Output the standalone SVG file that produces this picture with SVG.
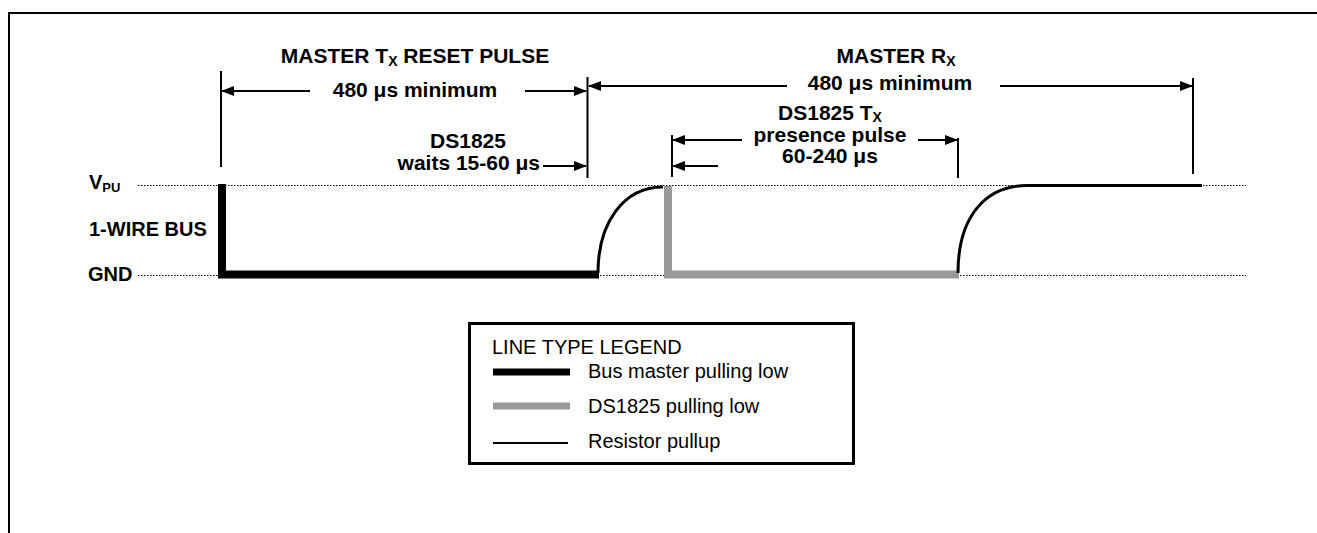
<svg xmlns="http://www.w3.org/2000/svg" width="1317" height="533" viewBox="0 0 1317 533">
<style>
.t{font-family:"Liberation Sans",Arial,sans-serif;font-weight:bold;font-size:20px;fill:#000}
.L{font-size:21px}
.r{font-family:"Liberation Sans",Arial,sans-serif;font-size:20px;fill:#000}
.dim{stroke:#000;stroke-width:2;fill:none}
.dot{stroke:#000;stroke-width:1;stroke-dasharray:1.5 1.5;fill:none}
.sub{font-size:14px}
</style>
<defs>
<marker id="ah" markerUnits="userSpaceOnUse" markerWidth="13" markerHeight="10" refX="12" refY="5" orient="auto">
<path d="M0,0 L13,5 L0,10 z" fill="#000"/>
</marker>
</defs>
<rect width="1317" height="533" fill="#fff"/>
<path id="frame" d="M9,533 V13 H1317" fill="none" stroke="#000" stroke-width="2"/>

<g id="levels">
<line class="dot" x1="138" y1="185.5" x2="1246" y2="185.5"/>
<line class="dot" x1="138" y1="275.5" x2="1246" y2="275.5"/>
<text class="t" x="89" y="189">V<tspan class="sub" dy="3" style="font-size:13px">PU</tspan></text>
<text class="t" x="89" y="236">1-WIRE BUS</text>
<text class="t" x="88" y="281">GND</text>
</g>

<g id="waveform">
<path d="M222,184 V274.5 H599" fill="none" stroke="#000" stroke-width="8" stroke-linejoin="miter"/>
<path d="M598,273 C598,222 624,187 663,187" fill="none" stroke="#000" stroke-width="3"/>
<path d="M668,186 V274.5 H959" fill="none" stroke="#999" stroke-width="8" stroke-linejoin="miter"/>
<path d="M958,273 C958,216 986,185.5 1027,185.5 H1202" fill="none" stroke="#000" stroke-width="3"/>
</g>

<g id="connectors">
<line class="dim" x1="221" y1="71" x2="221" y2="167"/>
<line class="dim" x1="587.5" y1="77" x2="587.5" y2="178"/>
<line class="dim" x1="1193" y1="78" x2="1193" y2="174"/>
<line class="dim" x1="672" y1="135" x2="672" y2="177"/>
<line class="dim" x1="958" y1="138" x2="958" y2="178"/>
<line class="dim" x1="310" y1="91" x2="222" y2="91" marker-end="url(#ah)"/>
<line class="dim" x1="525" y1="91" x2="586" y2="91" marker-end="url(#ah)"/>
<line class="dim" x1="787" y1="86" x2="589" y2="86" marker-end="url(#ah)"/>
<line class="dim" x1="1000" y1="86" x2="1192" y2="86" marker-end="url(#ah)"/>
<line class="dim" x1="543" y1="166" x2="586" y2="166" marker-end="url(#ah)"/>
<line class="dim" x1="742" y1="140" x2="673" y2="140" marker-end="url(#ah)"/>
<line class="dim" x1="918" y1="140" x2="957" y2="140" marker-end="url(#ah)"/>
<line class="dim" x1="718" y1="166" x2="673" y2="166" marker-end="url(#ah)"/>
</g>

<g id="labels">
<text class="t L" x="415" y="63" text-anchor="middle">MASTER T<tspan class="sub" dy="3">X</tspan><tspan dy="-3"> RESET PULSE</tspan></text>
<text class="t L" x="415" y="97" text-anchor="middle">480 μs minimum</text>
<text class="t L" x="468" y="148" text-anchor="middle">DS1825</text>
<text class="t L" x="540" y="170" text-anchor="end">waits 15-60 μs</text>
<text class="t L" x="896" y="63" text-anchor="middle">MASTER R<tspan class="sub" dy="3">X</tspan></text>
<text class="t L" x="890" y="90" text-anchor="middle">480 μs minimum</text>
<text class="t L" x="830" y="120" text-anchor="middle">DS1825 T<tspan class="sub" dy="2">X</tspan></text>
<text class="t L" x="830" y="142" text-anchor="middle">presence pulse</text>
<text class="t L" x="830" y="163" text-anchor="middle">60-240 μs</text>
</g>

<g id="legend">
<rect x="469.5" y="323.5" width="384" height="140" fill="#fff" stroke="#000" stroke-width="3"/>
<text class="r" x="492" y="354">LINE TYPE LEGEND</text>
<line x1="493" y1="372" x2="570" y2="372" stroke="#000" stroke-width="7"/>
<line x1="493" y1="406" x2="570" y2="406" stroke="#999" stroke-width="7"/>
<line x1="493" y1="443" x2="568" y2="443" stroke="#000" stroke-width="2"/>
<text class="r" x="588" y="378">Bus master pulling low</text>
<text class="r" x="588" y="413">DS1825 pulling low</text>
<text class="r" x="588" y="448">Resistor pullup</text>
</g>
</svg>
